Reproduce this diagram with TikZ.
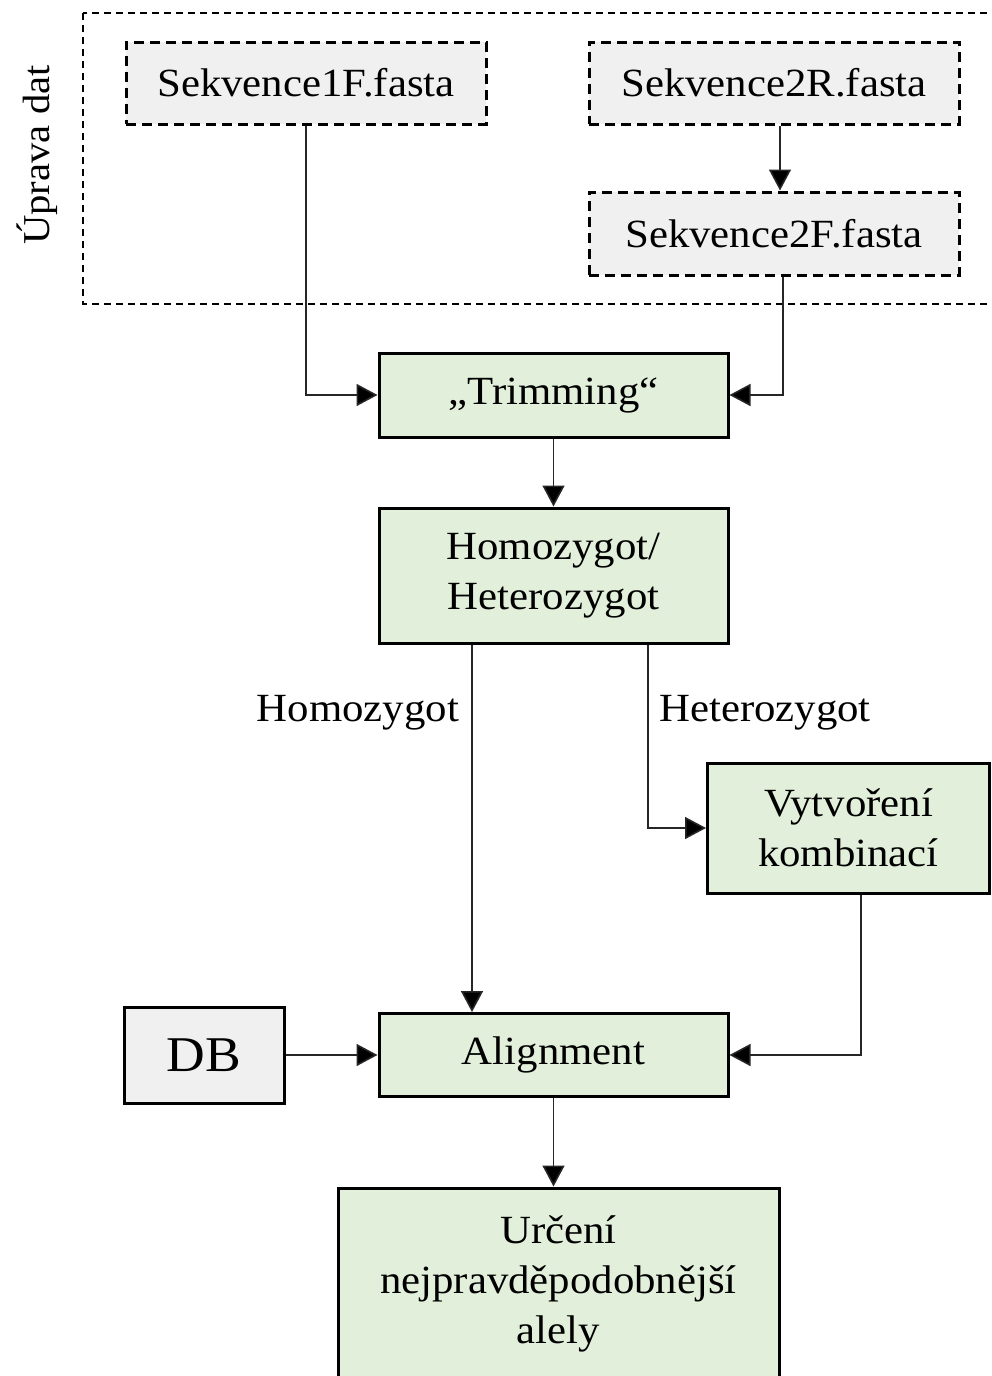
\documentclass[tikz,border=0pt]{standalone}
\usepackage{fontspec}
\setmainfont{Liberation Serif}[FakeStretch=1.07]
\usetikzlibrary{arrows.meta}
\definecolor{boxgreen}{HTML}{E2EFDA}
\definecolor{boxgray}{HTML}{F0F0F0}
\tikzset{
  base/.style={rectangle, align=center, inner sep=0pt, font=\fontsize{40}{50}\selectfont},
  greenbox/.style={base, draw=black, line width=3pt, fill=boxgreen},
  dashbox/.style={base, draw=black, line width=3pt, fill=boxgray, dash pattern=on 10pt off 6pt},
  graybox/.style={base, draw=black, line width=3pt, fill=boxgray},
  conn/.style={line width=1.6pt, draw=black!85, -{Triangle[length=21pt,width=22pt,fill=black]}},
  lbl/.style={font=\fontsize{40}{50}\selectfont, inner sep=0pt}
}
\begin{document}
\begin{tikzpicture}[x=1pt,y=-1pt]
\useasboundingbox (0,0) rectangle (991,1376);
\fill[white] (0,0) rectangle (991,1376);
% outer dashed group
\draw[line width=1.5pt, dash pattern=on 7pt off 5pt] (83,13) rectangle (1000,304);
\node[lbl, rotate=90, font=\fontsize{38}{44}\selectfont] (grp) at (37,155) {Úprava dat};
% nodes
\node[dashbox, minimum width=360pt, minimum height=82pt] (s1) at (306,83) {Sekvence1F.fasta};
\node[dashbox, minimum width=370pt, minimum height=82pt] (s2r) at (774,83) {Sekvence2R.fasta};
\node[dashbox, minimum width=370pt, minimum height=83pt] (s2f) at (774,233.5) {Sekvence2F.fasta};
\node[greenbox, minimum width=349pt, minimum height=84pt] (trim) at (553.5,395) {„Trimming“};
\node[greenbox, minimum width=349pt, minimum height=135pt] (homo) at (553.5,575.5) {Homozygot/\\Heterozygot};
\node[greenbox, minimum width=282pt, minimum height=130pt] (vyt) at (848.5,828) {Vytvoření\\kombinací};
\node[greenbox, minimum width=349pt, minimum height=83pt] (align) at (553.5,1055) {Alignment};
\node[graybox, minimum width=160pt, minimum height=96pt, font=\fontsize{50}{60}\selectfont] (db) at (204,1055) {DB};
\node[greenbox, minimum width=441pt, minimum height=192pt] (final) at (558.5,1284) {Určení\\nejpravděpodobnější\\alely};
% labels
\node[lbl] (lhomo) at (358,713) {Homozygot};
\node[lbl] (lhet) at (765,713) {Heterozygot};
% connectors
\draw[conn] (s1.south) |- (trim.west);
\draw[conn] ([xshift=6pt]s2r.south) -- ([xshift=6pt]s2f.north);
\draw[conn] ([xshift=9pt]s2f.south) |- (trim.east);
\draw[conn] (trim.south) -- (homo.north);
\draw[conn] ([xshift=-81.5pt]homo.south) -- ([xshift=-81.5pt]align.north);
\draw[conn] ([xshift=94.5pt]homo.south) |- (vyt.west);
\draw[conn] ([xshift=12.5pt]vyt.south) |- (align.east);
\draw[conn] (db.east) -- (align.west);
\draw[conn] (align.south) -- (align.south |- final.north);
\end{tikzpicture}
\end{document}
